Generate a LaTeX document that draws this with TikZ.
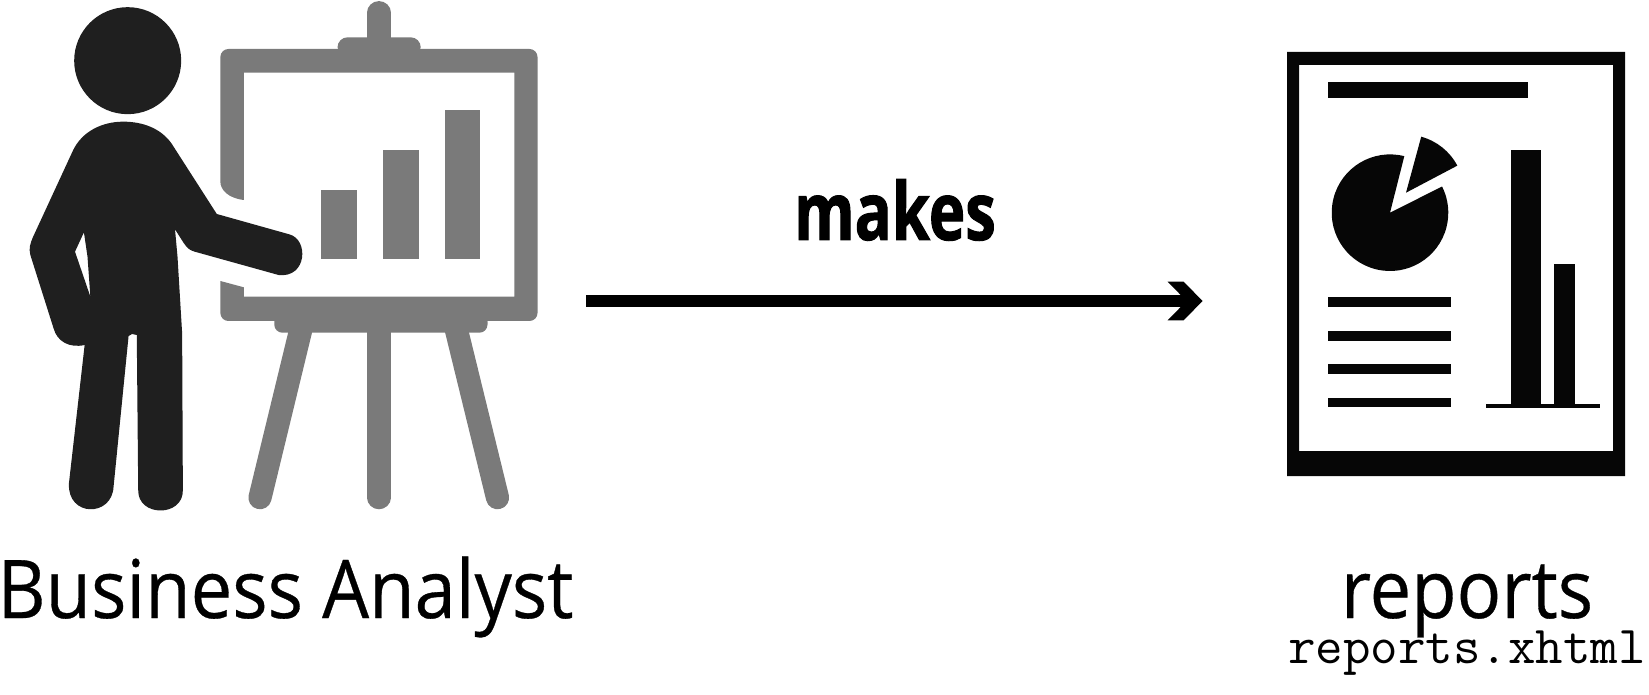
\documentclass[tikz,border=0pt]{standalone}
\usepackage{fontspec}
\setmainfont{Open Sans}
\newfontfamily\labelfont[FakeStretch=0.915, FakeBold=0.4]{Open Sans}
\newfontfamily\verbfont[FakeStretch=0.77, BoldFeatures={FakeBold=1.2}]{Open Sans}
\usepackage{xcolor}
\definecolor{analystblack}{HTML}{1F1F1F}
\definecolor{easelgray}{HTML}{7A7A7A}
\definecolor{reportblack}{HTML}{060606}
\usetikzlibrary{arrows.meta}
\pgfdeclarearrow{
  name=Chevron,
  setup code={
    \pgfarrowssettipend{0pt}
    \pgfarrowssetlineend{-15pt}
    \pgfarrowssetbackend{-35pt}
    \pgfarrowssetvisualbackend{-15pt}
    \pgfarrowshullpoint{0pt}{0pt}
    \pgfarrowshullpoint{-35pt}{19.3pt}
    \pgfarrowshullpoint{-35pt}{-19.3pt}
  },
  drawing code={
    \pgfpathmoveto{\pgfqpoint{0pt}{0pt}}
    \pgfpathlineto{\pgfqpoint{-19pt}{19.3pt}}
    \pgfpathlineto{\pgfqpoint{-35pt}{19.3pt}}
    \pgfpathlineto{\pgfqpoint{-21.6pt}{5.7pt}}
    \pgfpathlineto{\pgfqpoint{-21.6pt}{-5.7pt}}
    \pgfpathlineto{\pgfqpoint{-35pt}{-19.3pt}}
    \pgfpathlineto{\pgfqpoint{-19pt}{-19.3pt}}
    \pgfpathclose
    \pgfusepathqfill
  }
}
\tikzset{
  actorlabel/.style={anchor=base, inner sep=0pt, font=\labelfont\fontsize{81}{90}\selectfont},
  verblabel/.style={anchor=base, inner sep=0pt, font=\verbfont\bfseries\fontsize{80}{90}\selectfont},
  filelabel/.style={anchor=base, inner sep=0pt, font=\ttfamily\fontsize{53.4}{60}\selectfont},
  easelleg/.style={easelgray, line width=23.2pt, line cap=round},
}
\begin{document}
\begin{tikzpicture}[x=1pt, y=-1pt]
  \useasboundingbox (0,0) rectangle (1649,695);
  % Analyst and easel
  \begin{scope}[x=0.35714pt, y=-0.33333pt]
    \draw[easelleg] (1061,38) -- (1061,130);
    \draw[easelleg] (1061,990) -- (1061,1493);
    \draw[easelleg] (842,990) -- (728,1493);
    \draw[easelleg] (1278,990) -- (1393,1493);
    \fill[easelgray, rounded corners=10pt] (945,112) rectangle (1178,170);
    \fill[easelgray, rounded corners=8pt] (768,940) rectangle (1365,998);
    \fill[easelgray] (683,600) .. controls (640,595) and (617,570) .. (617,545)
      [rounded corners=8pt] -- (617,147) -- (1505,147) -- (1505,963) -- (617,963)
      [sharp corners] -- (617,843) -- (683,862) -- (683,890) -- (1440,890)
      -- (1440,218) -- (683,218) -- cycle;
    \foreach \barleft/\barright/\bartop in {899/1000/570, 1072/1173/450, 1246/1344/330}
      \fill[easelgray] (\barleft,\bartop) rectangle (\barright,776);
    \fill[analystblack] (357.5,182) circle [radius=53.5pt];
    \fill[analystblack, even odd rule] (345,365) .. controls (400,365) and (450,385) .. (480,430)
      -- (607,642) -- (810,703) .. controls (865,718) and (860,835) .. (780,825)
      -- (545,755) .. controls (530,750) and (525,745) .. (515,730) -- (490,688)
      -- (497,770) -- (510,1000) -- (512,1470) .. controls (514,1552) and (385,1552) .. (387,1470)
      -- (383,1005) -- (370,1002) -- (360,1008) -- (318,1460)
      .. controls (314,1552) and (188,1552) .. (193,1450) -- (237,1035)
      .. controls (195,1045) and (160,1025) .. (150,985) -- (85,765)
      .. controls (80,745) and (85,730) .. (92,712) -- (205,450)
      .. controls (230,395) and (285,365) .. (345,365) -- cycle
      (235,697) -- (210,755) -- (253,890) -- (245,770) -- cycle;
  \end{scope}
  % Report page
  \fill[reportblack, even odd rule] (1287,52) rectangle (1625,476) (1299,65) rectangle (1613,451);
  \fill[reportblack] (1328,82.3) rectangle (1528.3,97.7);
  \begin{scope}[shift={(1390,212.7)}, y=1pt]
    \fill[reportblack] (0,0) -- (75.8:58.3pt) arc [start angle=75.8, end angle=386.7, radius=58.3pt] -- cycle;
  \end{scope}
  \begin{scope}[shift={(1406,192.7)}, y=1pt]
    \fill[reportblack] (0,0) -- (74.8:58pt) arc [start angle=74.8, end angle=27.8, radius=58pt] -- cycle;
  \end{scope}
  \foreach \rowtop in {297,331,364.3,397.7}
    \fill[reportblack] (1328,\rowtop) rectangle (1451.3,\rowtop+9.5);
  \fill[reportblack] (1511,150) rectangle (1541,405);
  \fill[reportblack] (1554,264) rectangle (1575,405);
  \fill[reportblack] (1486,404) rectangle (1600,408.3);
  % Labels and connector
  \node[actorlabel] (analyst) at (285.5,618) {Business Analyst};
  \node[actorlabel] (reports) at (1467,618) {reports};
  \node[filelabel] (reportsfile) at (1467,663) {reports.xhtml};
  \node[verblabel] (makes) at (895,240) {makes};
  \coordinate (makesfrom) at (586,301);
  \coordinate (makesto) at (1202.6,301);
  \draw[-{Chevron}, line width=11.4pt] (makesfrom) -- (makesto);
\end{tikzpicture}
\end{document}
